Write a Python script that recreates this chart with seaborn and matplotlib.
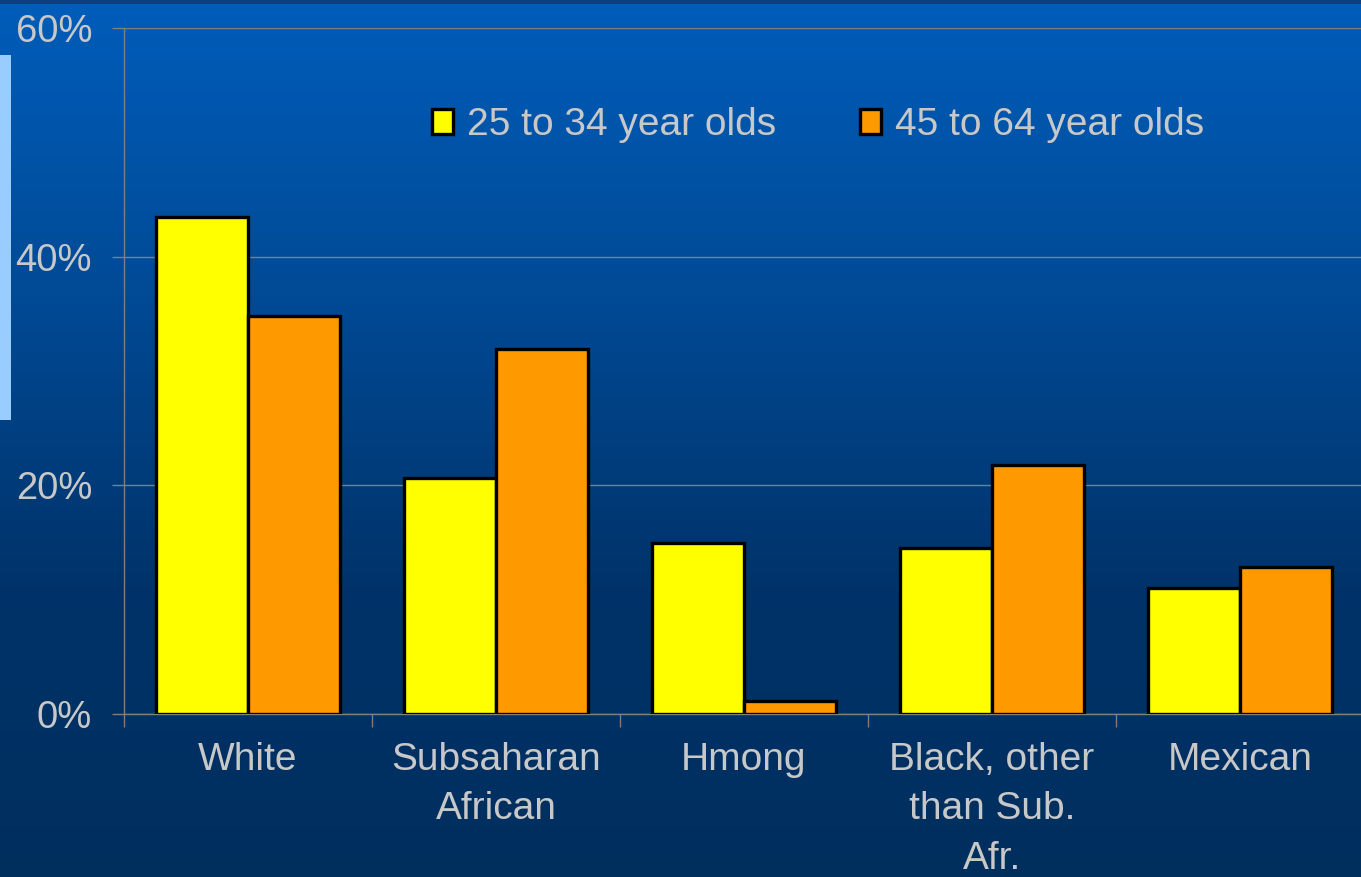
import numpy as np
import pandas as pd
import matplotlib
matplotlib.use("Agg")
import matplotlib.pyplot as plt
from matplotlib.patches import Rectangle, Patch
from matplotlib.colors import LinearSegmentedColormap
from matplotlib.ticker import FixedLocator, PercentFormatter
import seaborn as sns

# Data: share of each group (percent)
groups = ["White", "Subsaharan\nAfrican", "Hmong", "Black, other\nthan Sub.\nAfr.", "Mexican"]
age_groups = ["25 to 34 year olds", "45 to 64 year olds"]
young_values = [43.5, 20.6, 15.0, 14.5, 11.0]
older_values = [34.8, 31.9, 1.1, 21.8, 12.9]
y_ticks = [0, 20, 40, 60]

bar_colors = ["#ffff00", "#ff9900"]
text_color = "#c8c8c8"
grid_color = "#7f7f7f"

df = pd.DataFrame({
    "group": groups * 2,
    "age": [age_groups[0]] * len(groups) + [age_groups[1]] * len(groups),
    "value": young_values + older_values,
})

sns.set_theme(style="white")
plt.rcParams["font.family"] = ["Liberation Sans", "DejaVu Sans"]

W, H = 1361, 877
fig = plt.figure(figsize=(W / 100, H / 100), dpi=100)

# Slide-style vertical gradient background
bg = fig.add_axes([0, 0, 1, 1], zorder=-10)
cmap = LinearSegmentedColormap.from_list("slide", ["#005dba", "#004a96", "#00336a", "#002f5e"])
grad = np.linspace(0, 1, 256).reshape(-1, 1)
bg.imshow(grad, aspect="auto", cmap=cmap, extent=[0, 1, 0, 1], origin="upper")
bg.set_xlim(0, 1)
bg.set_ylim(0, 1)
bg.axis("off")
# dark header strip and light accent bar on the left edge
bg.add_patch(Rectangle((0, 1 - 4 / H), 1, 4 / H, color="#0b3f7e", lw=0))
bg.add_patch(Rectangle((0, 1 - 420 / H), 11 / W, (420 - 55) / H, color="#99ccff", lw=0))

ax = fig.add_axes([124 / W, 1 - 714 / H, (1364 - 124) / W, 686 / H])
ax.set_facecolor("none")

sns.barplot(data=df, x="group", y="value", hue="age", order=groups, hue_order=age_groups,
            palette=bar_colors, width=0.74, edgecolor="black", linewidth=2.4,
            saturation=1, ax=ax, legend=False, zorder=3)

ax.set_xlim(-0.5, len(groups) - 0.5)
ax.set_ylim(0, 60)
ax.yaxis.set_major_locator(FixedLocator(y_ticks))
ax.yaxis.set_major_formatter(PercentFormatter(decimals=0))
ax.set_xlabel("")
ax.set_ylabel("")

ax.grid(axis="y", color=grid_color, linewidth=1.0, zorder=0)
ax.grid(axis="x", visible=False)
ax.set_axisbelow(True)
for side in ["top", "right"]:
    ax.spines[side].set_visible(False)
for side in ["left", "bottom"]:
    ax.spines[side].set_color(grid_color)
    ax.spines[side].set_linewidth(1.0)

ax.tick_params(axis="y", which="major", length=9, width=1.0, color=grid_color,
               labelsize=27.5, labelcolor=text_color, pad=14, left=True)
# category boundary ticks on the x axis, labels centred between them
ax.set_xticks(np.arange(-0.5, len(groups), 1.0), minor=True)
ax.tick_params(axis="x", which="minor", length=9, width=1.0, color=grid_color, bottom=True)
ax.tick_params(axis="x", which="major", length=0, labelsize=28, labelcolor=text_color, pad=20)
for lbl in ax.get_xticklabels():
    lbl.set_linespacing(1.48)
    lbl.set_va("top")

handles = [Patch(facecolor=c, edgecolor="black", linewidth=2.4) for c in bar_colors]
fig.legend(handles, age_groups, loc="center left", bbox_to_anchor=(432 / W, 1 - 125 / H),
           ncol=2, frameon=False, fontsize=28, labelcolor=text_color,
           handlelength=0.55, handleheight=0.6, handletextpad=0.35,
           columnspacing=2.15, borderpad=0, borderaxespad=0)

fig.savefig("out.png", dpi=100, facecolor=fig.get_facecolor())
